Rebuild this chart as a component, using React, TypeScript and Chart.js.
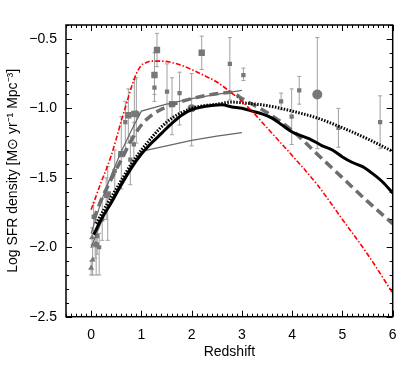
import { useEffect, useRef } from "react";
import { Chart, registerables } from "chart.js";

Chart.register(...registerables);

// Axis ticks
const xTicks = [0, 1, 2, 3, 4, 5, 6];
const yTicks = [-2.5, -2.0, -1.5, -1.0, -0.5];

// Model curves
const zRed = [0, 0.1, 0.2, 0.3, 0.4, 0.5, 0.6, 0.7, 0.8, 0.9, 1.0, 1.1, 1.2, 1.4, 1.6, 1.8, 2.0, 2.2, 2.5, 2.8, 3.0, 3.2, 3.5, 4.0, 4.5, 5.0, 5.5, 6.0];
const vRed = [-1.73, -1.63, -1.53, -1.44, -1.34, -1.22, -1.09, -0.97, -0.85, -0.75, -0.69, -0.67, -0.66, -0.66, -0.67, -0.69, -0.72, -0.755, -0.81, -0.89, -0.95, -1.02, -1.14, -1.34, -1.55, -1.8, -2.05, -2.33];

const zBlack = [0.05, 0.2, 0.4, 0.6, 0.8, 1.0, 1.2, 1.4, 1.6, 1.8, 2.0, 2.2, 2.4, 2.6, 2.8, 3.0, 3.2, 3.4, 3.6, 3.8, 4.0, 4.2, 4.4, 4.6, 4.8, 5.0, 5.2, 5.4, 5.6, 5.8, 6.0];
const vBlack = [-1.91, -1.8, -1.68, -1.55, -1.43, -1.33, -1.25, -1.18, -1.11, -1.05, -1.01, -0.99, -0.98, -0.975, -0.99, -1.0, -1.02, -1.04, -1.07, -1.12, -1.17, -1.2, -1.23, -1.27, -1.3, -1.35, -1.39, -1.42, -1.47, -1.53, -1.61];

const zDash = [0.05, 0.2, 0.4, 0.6, 0.8, 1.0, 1.2, 1.5, 2.0, 2.5, 2.8, 3.0, 3.5, 4.0, 4.5, 5.0, 5.5, 6.0];
const vDash = [-1.8, -1.66, -1.51, -1.37, -1.23, -1.12, -1.05, -0.99, -0.93, -0.895, -0.885, -0.93, -1.03, -1.16, -1.33, -1.5, -1.67, -1.83];

const zDot = [0.1, 0.3, 0.5, 0.8, 1.0, 1.5, 2.0, 2.5, 2.8, 3.0, 3.5, 4.0, 4.5, 5.0, 5.5, 6.0];
const vDot = [-1.83, -1.7, -1.58, -1.4, -1.3, -1.1, -1.0, -0.97, -0.955, -0.96, -0.98, -1.02, -1.07, -1.14, -1.22, -1.31];

const zEnv = [0, 0.2, 0.4, 0.6, 0.8, 1.0, 1.5, 2.0, 2.5, 3.0];
const vEnvUp = [-1.9, -1.67, -1.48, -1.31, -1.16, -1.02, -0.97, -0.93, -0.9, -0.87];
const vEnvLow = [-2.0, -1.82, -1.66, -1.53, -1.41, -1.31, -1.27, -1.23, -1.2, -1.175];

// Observations
const zTri = [0.0, 0.02, 0.03, 0.08];
const vTri = [-2.15, -1.93, -2.09, -1.98];
const loTri = [-2.2, -2.0, -2.2, -2.08];
const hiTri = [-2.1, -1.86, -1.98, -1.88];

const zSq = [0.05, 0.12, 0.16, 0.22, 0.3, 0.47, 0.68, 0.78, 0.85, 1.26, 1.51, 1.76, 2.76, 3.03, 3.78, 3.99, 4.14, 4.92, 5.75];
const vSq = [-1.78, -1.92, -2.0, -1.8, -1.63, -1.45, -1.1, -1.37, -1.26, -0.85, -0.88, -0.89, -0.68, -0.76, -0.95, -1.06, -0.87, -1.14, -1.1];
const loSq = [-1.9, -2.05, -2.2, -1.95, -1.8, -1.6, -1.3, -1.55, -1.4, -0.95, -1.12, -1.12, -0.94, -0.8, -1.01, -1.26, -0.97, -1.28, -1.29];
const hiSq = [-1.68, -1.8, -1.9, -1.65, -1.5, -1.3, -0.95, -1.2, -1.1, -0.75, -0.68, -0.74, -0.49, -0.71, -0.89, -0.86, -0.77, -1.0, -0.91];

const zBig = [0.33, 0.6, 0.74, 0.86, 1.26, 1.31, 1.61, 2.2];
const vBig = [-1.62, -1.33, -1.05, -1.04, -0.76, -0.58, -0.97, -0.6];
const loBig = [-1.95, -1.58, -1.25, -1.2, -0.9, -0.7, -1.19, -0.72];
const hiBig = [-1.42, -1.06, -0.86, -0.79, -0.6, -0.46, -0.78, -0.48];

const zCir = [0.1, 0.9, 2.0, 4.5];
const vCir = [-1.98, -1.04, -1.0, -0.9];
const loCir = [-2.2, -1.25, -1.27, -1.29];
const hiCir = [-1.9, -0.78, -0.75, -0.49];
const rCir = [3, 3.5, 4, 5];

const FONT = "'Liberation Sans', Arial, Helvetica, sans-serif";
const MARK = "#787878";

const pts = (xs: number[], ys: number[]) => xs.map((x, i) => ({ x, y: ys[i] }));

const errorBars = {
  id: "errorBars",
  beforeDatasetsDraw(chart: any) {
    const { ctx, scales } = chart;
    const xs = scales.x;
    const ys = scales.y;
    ctx.save();
    ctx.strokeStyle = "#a0a0a0";
    ctx.lineWidth = 1;
    chart.data.datasets.forEach((ds: any) => {
      if (!ds.errLo) return;
      ds.data.forEach((p: any, i: number) => {
        const px = xs.getPixelForValue(p.x);
        const y1 = ys.getPixelForValue(ds.errLo[i]);
        const y2 = ys.getPixelForValue(ds.errHi[i]);
        ctx.beginPath();
        ctx.moveTo(px, y1);
        ctx.lineTo(px, y2);
        ctx.moveTo(px - 2, y1);
        ctx.lineTo(px + 2, y1);
        ctx.moveTo(px - 2, y2);
        ctx.lineTo(px + 2, y2);
        ctx.stroke();
      });
    });
    ctx.restore();
  },
};

const frameTicks = {
  id: "frameTicks",
  afterDraw(chart: any) {
    const { ctx, chartArea, scales } = chart;
    const { left, right, top, bottom } = chartArea;
    const xs = scales.x;
    const ys = scales.y;
    ctx.save();
    ctx.strokeStyle = "#000";
    ctx.lineWidth = 1;
    ctx.beginPath();
    for (let k = -5; k <= 60; k++) {
      const v = k / 10;
      const major = k % 10 === 0;
      const len = major ? 6 : 3;
      const px = Math.round(xs.getPixelForValue(v)) + 0.5;
      ctx.moveTo(px, bottom);
      ctx.lineTo(px, bottom - len);
      ctx.moveTo(px, top);
      ctx.lineTo(px, top + len);
    }
    for (let k = -25; k <= -4; k++) {
      const v = k / 10;
      const major = k % 5 === 0;
      const len = major ? 6 : 3;
      const py = Math.round(ys.getPixelForValue(v)) + 0.5;
      ctx.moveTo(left, py);
      ctx.lineTo(left + len, py);
      ctx.moveTo(right, py);
      ctx.lineTo(right - len, py);
    }
    ctx.stroke();
    ctx.lineWidth = 1.5;
    ctx.strokeRect(left, top, right - left, bottom - top);
    ctx.restore();
  },
};

export default function App() {
  const ref = useRef<HTMLCanvasElement>(null);
  useEffect(() => {
    document.body.style.margin = "0";
    const chart = new Chart(ref.current!, {
      type: "scatter",
      data: {
        datasets: [
          {
            type: "line",
            data: pts(zRed, vRed),
            borderColor: "#ff0000",
            borderWidth: 1.6,
            borderDash: [5, 2, 1.5, 2],
            pointRadius: 0,
            cubicInterpolationMode: "monotone",
            order: 1,
          } as any,
          {
            type: "line",
            data: pts(zBlack, vBlack),
            borderColor: "#000000",
            borderWidth: 3,
            pointRadius: 0,
            cubicInterpolationMode: "monotone",
            order: 2,
          },
          {
            type: "line",
            data: pts(zDot, vDot),
            borderColor: "#000000",
            borderWidth: 3,
            borderDash: [1.5, 1.5],
            pointRadius: 0,
            cubicInterpolationMode: "monotone",
            order: 3,
          },
          {
            type: "line",
            data: pts(zDash, vDash),
            borderColor: "#6e6e6e",
            borderWidth: 3.5,
            borderDash: [9, 5],
            pointRadius: 0,
            cubicInterpolationMode: "monotone",
            order: 4,
          },
          {
            type: "line",
            data: pts(zEnv, vEnvUp),
            borderColor: "#666666",
            borderWidth: 1.2,
            pointRadius: 0,
            tension: 0,
            order: 5,
          },
          {
            type: "line",
            data: pts(zEnv, vEnvLow),
            borderColor: "#666666",
            borderWidth: 1.2,
            pointRadius: 0,
            tension: 0,
            order: 5,
          },
          {
            data: pts(zTri, vTri),
            errLo: loTri,
            errHi: hiTri,
            pointStyle: "triangle",
            pointRadius: 3.5,
            backgroundColor: MARK,
            borderColor: MARK,
            borderWidth: 0,
            order: 10,
          } as any,
          {
            data: pts(zSq, vSq),
            errLo: loSq,
            errHi: hiSq,
            pointStyle: "rect",
            pointRadius: 3,
            backgroundColor: MARK,
            borderColor: MARK,
            borderWidth: 0,
            order: 10,
          } as any,
          {
            data: pts(zBig, vBig),
            errLo: loBig,
            errHi: hiBig,
            pointStyle: "rect",
            pointRadius: 4.5,
            backgroundColor: MARK,
            borderColor: MARK,
            borderWidth: 0,
            order: 10,
          } as any,
          {
            data: pts(zCir, vCir),
            errLo: loCir,
            errHi: hiCir,
            pointStyle: "circle",
            pointRadius: rCir,
            backgroundColor: MARK,
            borderColor: MARK,
            borderWidth: 0,
            order: 10,
          } as any,
        ],
      },
      options: {
        responsive: false,
        animation: false,
        events: [],
        layout: { padding: { top: 25, right: 16.3, left: 0, bottom: 0 } },
        plugins: { legend: { display: false }, tooltip: { enabled: false } },
        scales: {
          x: {
            type: "linear",
            min: -0.5,
            max: 6,
            afterBuildTicks: (s: any) => {
              s.ticks = xTicks.map((v) => ({ value: v }));
            },
            afterFit: (s: any) => {
              s.height = 54.3;
            },
            grid: { display: false, drawTicks: false },
            border: { display: false },
            ticks: {
              color: "#000",
              font: { family: FONT, size: 14 },
              padding: 10,
              maxRotation: 0,
              autoSkip: false,
              callback: (v: any) => String(v),
            },
            title: {
              display: true,
              text: "Redshift",
              color: "#000",
              font: { family: FONT, size: 14 },
              padding: { top: 0, bottom: 10.9 },
            },
          },
          y: {
            type: "linear",
            min: -2.5,
            max: -0.4,
            afterBuildTicks: (s: any) => {
              s.ticks = yTicks.map((v) => ({ value: v }));
            },
            afterFit: (s: any) => {
              s.width = 66;
            },
            grid: { display: false, drawTicks: false },
            border: { display: false },
            ticks: {
              color: "#000",
              font: { family: FONT, size: 14 },
              padding: 9,
              autoSkip: false,
              callback: (v: any) => (v < 0 ? "\u2212" : "") + Math.abs(Number(v)).toFixed(1),
            },
            title: {
              display: true,
              text: "Log SFR density [M\u2299 yr\u207B\u00B9 Mpc\u207B\u00B3]",
              color: "#000",
              font: { family: FONT, size: 14 },
              padding: { top: 4.6, bottom: 0 },
            },
          },
        },
      },
      plugins: [errorBars, frameTicks],
    });
    return () => chart.destroy();
  }, []);
  return (
    <canvas
      ref={ref}
      width={409}
      height={371}
      style={{ display: "block", width: 409, height: 371 }}
    />
  );
}
